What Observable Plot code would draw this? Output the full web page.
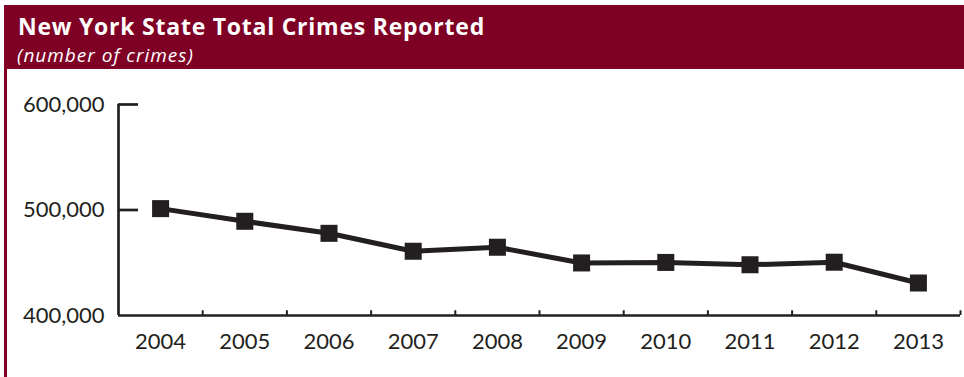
<!DOCTYPE html>
<html>
<head>
<meta charset="utf-8">
<script src="https://cdn.jsdelivr.net/npm/d3@7"></script>
<script src="https://cdn.jsdelivr.net/npm/@observablehq/plot@0.6"></script>
<style>
  html, body { margin: 0; padding: 0; background: #fff; }
  #frame { position: relative; width: 964px; height: 377px; overflow: hidden; background: #fff; }
  #leftbar { position: absolute; left: 4px; top: 5px; width: 3px; height: 372px; background: #7f0025; }
  #header { position: absolute; left: 4px; top: 5px; width: 960px; height: 64px; background: #7f0025; color: #fff; }
  #title { position: absolute; left: 14px; top: 10px; font: bold 23px/23px "Open Sans", sans-serif; letter-spacing: 0.76px; white-space: nowrap; }
  #subtitle { position: absolute; left: 13px; top: 41px; font: italic 19px/19px "Open Sans", sans-serif; letter-spacing: 1px; white-space: nowrap; }
  #chart { position: absolute; left: 0; top: 69px; }
</style>
</head>
<body>
<div id="frame">
  <div id="leftbar"></div>
  <div id="header">
    <div id="title">New York State Total Crimes Reported</div>
    <div id="subtitle">(number of crimes)</div>
  </div>
  <div id="chart"></div>
</div>
<script>
const years = [2004, 2005, 2006, 2007, 2008, 2009, 2010, 2011, 2012, 2013];
const crimes = [501300, 489300, 477900, 460900, 464700, 449800, 450300, 448100, 450500, 430800];
const yTicks = [400000, 500000, 600000];

const ink = "#231f20";
const data = years.map((year, i) => ({year, crimes: crimes[i]}));
const boundaries = years.map(y => y + 0.5);
const x0 = years[0] - 0.5;
const x1 = years[years.length - 1] + 0.5;

const chart = Plot.plot({
  width: 964,
  height: 308,
  marginTop: 35,
  marginBottom: 62,
  marginLeft: 118,
  marginRight: 4,
  style: {fontFamily: "Lato, sans-serif", fontSize: "22px", color: ink, background: "transparent", overflow: "visible"},
  x: {type: "linear", domain: [x0, x1]},
  y: {domain: [yTicks[0], yTicks[yTicks.length - 1]]},
  marks: [
    Plot.axisX(years, {tickSize: 0, tickPadding: 18, tickFormat: d => String(d), label: null, fill: ink, letterSpacing: "1px"}),
    Plot.axisY(yTicks, {tickSize: 0, tickPadding: 14, tickFormat: d3.format(","), label: null, fill: ink, letterSpacing: "1px"}),
    Plot.axisY(yTicks.slice(1), {text: null, tickSize: 20, dx: 20, strokeWidth: 2.7, stroke: ink, label: null}),
    Plot.ruleX([x0], {y1: yTicks[0], y2: yTicks[yTicks.length - 1], stroke: ink, strokeWidth: 2.7}),
    Plot.ruleY([yTicks[0]], {x1: x0, x2: x1, stroke: ink, strokeWidth: 2.7}),
    Plot.ruleX(boundaries, {y1: yTicks[0], y2: yTicks[0] + 4500, stroke: ink, strokeWidth: 2}),
    Plot.line(data, {x: "year", y: "crimes", stroke: ink, strokeWidth: 5}),
    Plot.dot(data, {x: "year", y: "crimes", symbol: "square", r: 9.6, fill: ink, stroke: "none"})
  ]
});
document.getElementById("chart").appendChild(chart);
</script>
</body>
</html>
